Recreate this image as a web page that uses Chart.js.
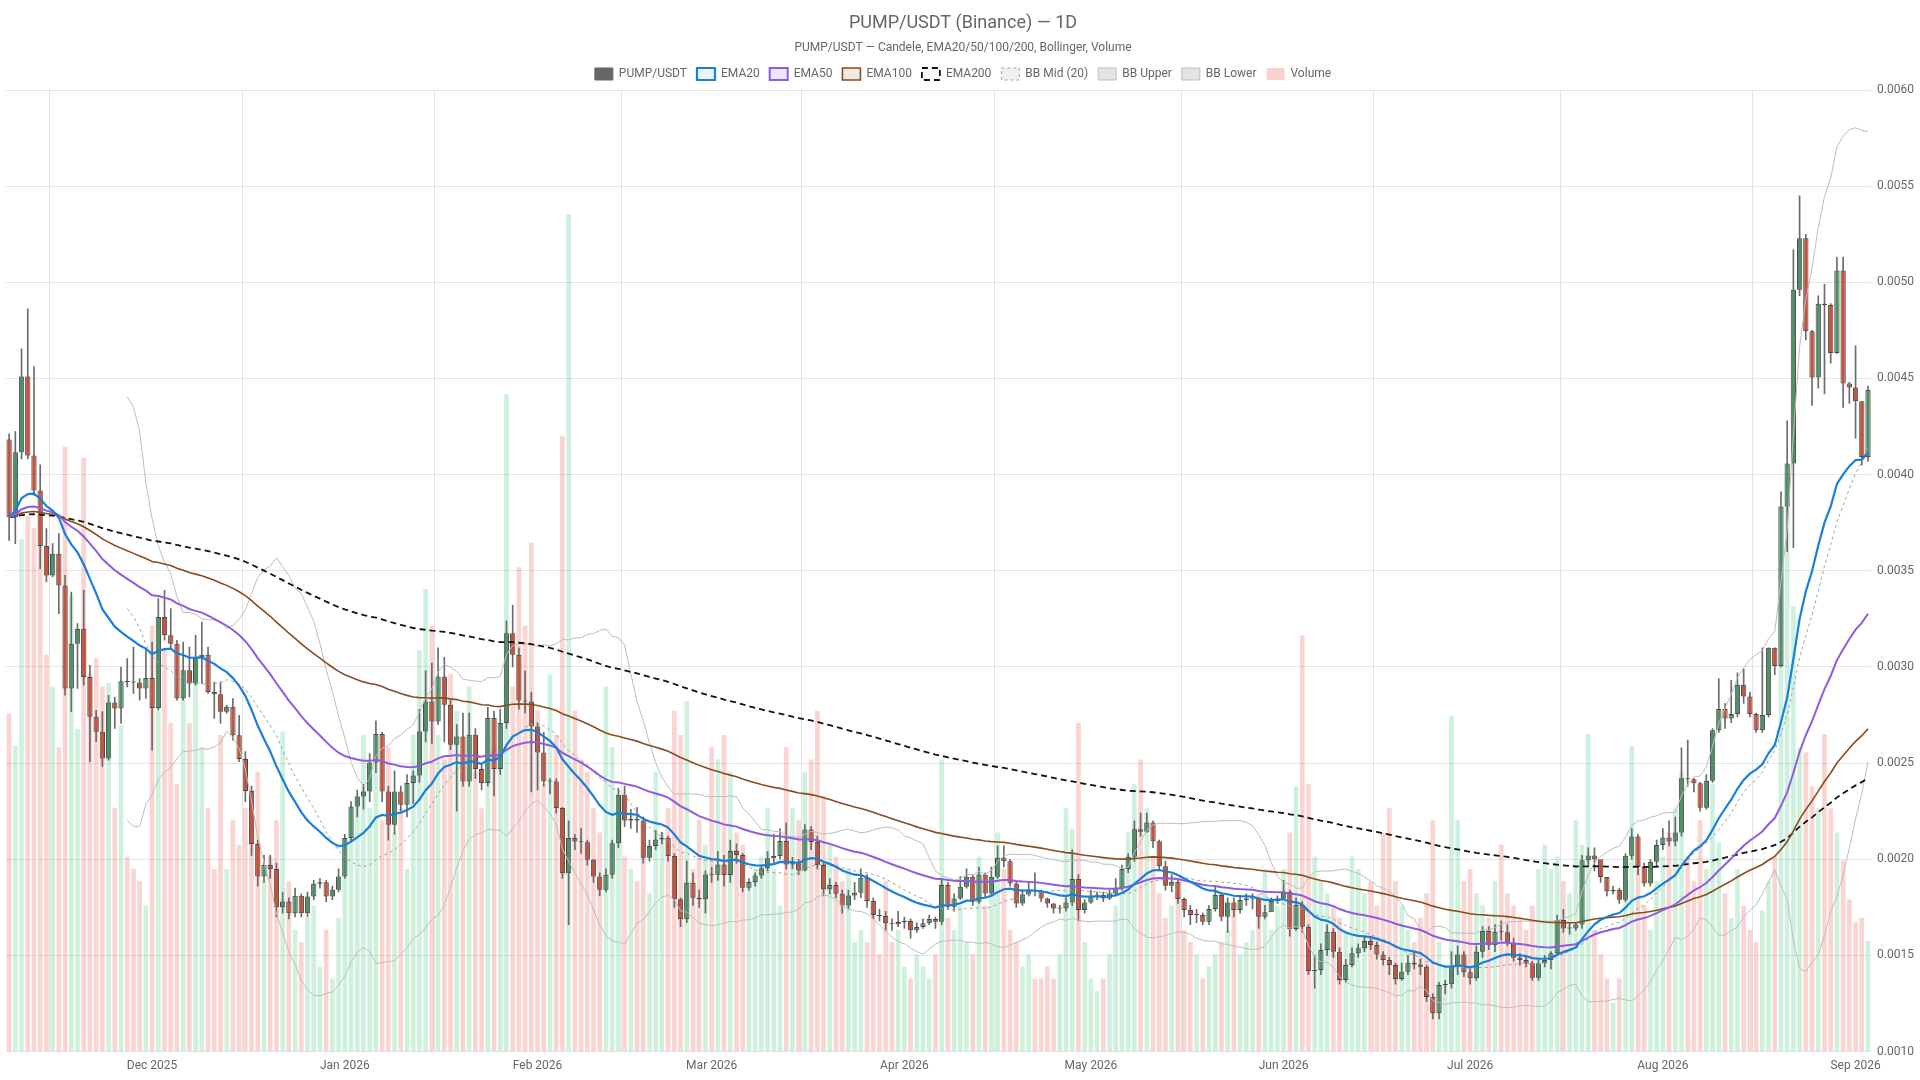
<!DOCTYPE html>
<html>
<head>
<meta charset="utf-8">
<title>PUMP/USDT (Binance) — 1D</title>
<script src="https://cdn.jsdelivr.net/npm/chart.js@4"></script>
<style>
  html, body { margin: 0; padding: 0; background: #fff; }
  #wrap { width: 1920px; height: 1080px; }
</style>
</head>
<body>
<div id="wrap"><canvas id="chart"></canvas></div>
<script>
// Daily candles, first day 2025-11-08. Prices in thousandths of USDT (x 0.001)
const START_DAY = '2025-11-08';
const firstOpen = 4.183;

const closeK = [
  3.779,4.117,4.510,4.100,3.918,3.629,3.476,3.589,3.424,2.888,3.121,3.199,2.948,2.741,2.663,2.524,2.815,2.784,2.926,2.922,
  2.919,2.888,2.943,2.787,3.260,3.165,3.121,2.836,2.983,2.914,3.052,3.064,2.870,2.858,2.767,2.793,2.645,2.521,2.355,2.080,
  1.910,1.970,1.950,1.750,1.780,1.720,1.810,1.720,1.807,1.873,1.880,1.807,1.842,1.911,2.110,2.275,2.327,2.353,2.503,2.652,
  2.353,2.179,2.353,2.283,2.396,2.436,2.664,2.820,2.716,2.950,2.803,2.595,2.638,2.405,2.647,2.469,2.396,2.734,2.469,2.708,
  3.175,3.063,2.825,2.820,2.690,2.555,2.405,2.405,2.266,1.928,2.110,2.093,2.088,1.998,1.911,1.842,1.920,2.084,2.335,2.202,
  2.210,2.202,2.008,2.069,2.103,2.112,2.017,1.792,1.688,1.878,1.800,1.792,1.921,1.920,1.973,1.918,2.043,2.022,1.852,1.882,
  1.916,1.953,2.005,2.017,2.095,1.973,1.980,1.942,2.155,2.090,1.970,1.844,1.866,1.821,1.760,1.812,1.826,1.904,1.783,1.710,
  1.705,1.667,1.662,1.674,1.679,1.631,1.648,1.667,1.689,1.675,1.866,1.753,1.796,1.857,1.909,1.779,1.921,1.822,1.909,2.008,
  1.990,1.874,1.770,1.817,1.840,1.834,1.796,1.770,1.744,1.744,1.775,1.897,1.736,1.775,1.810,1.814,1.796,1.822,1.852,1.949,
  2.013,2.156,2.143,2.191,2.094,1.964,1.862,1.883,1.793,1.736,1.710,1.710,1.675,1.741,1.814,1.701,1.775,1.736,1.788,1.796,
  1.796,1.701,1.724,1.783,1.796,1.831,1.637,1.762,1.649,1.419,1.424,1.528,1.623,1.519,1.372,1.450,1.511,1.537,1.575,1.554,
  1.505,1.476,1.450,1.377,1.415,1.462,1.453,1.441,1.284,1.199,1.346,1.350,1.441,1.505,1.412,1.381,1.519,1.627,1.554,1.623,
  1.620,1.562,1.488,1.476,1.459,1.384,1.459,1.476,1.511,1.684,1.640,1.640,1.661,1.995,2.020,2.000,1.908,1.834,1.840,1.790,
  2.018,2.118,1.960,1.874,1.987,2.074,2.113,2.092,2.139,2.421,2.416,2.395,2.268,2.408,2.671,2.782,2.732,2.755,2.908,2.847,
  2.755,2.671,2.750,3.100,3.005,3.834,4.058,4.961,5.229,4.745,4.505,4.889,4.882,4.632,5.061,4.474,4.453,4.382,4.092,4.442
];

const highK = [
  4.212,4.224,4.654,4.862,4.562,4.051,3.719,3.641,3.693,3.476,3.390,3.225,3.399,3.009,2.775,2.767,2.853,2.844,3.000,3.044,
  3.104,2.940,3.096,3.130,3.355,3.399,3.303,3.139,3.130,3.104,3.165,3.234,3.104,2.922,2.922,2.801,2.836,2.749,2.560,2.380,
  2.100,2.020,2.020,1.980,1.830,1.800,1.850,1.820,1.830,1.890,1.900,1.890,1.860,1.950,2.130,2.300,2.360,2.390,2.550,2.720,
  2.660,2.380,2.460,2.380,2.440,2.460,2.780,2.980,3.020,3.100,3.050,2.830,2.700,2.760,2.760,2.680,2.490,2.790,2.770,2.780,
  3.240,3.320,3.100,2.980,2.870,2.710,2.660,2.420,2.420,2.270,2.200,2.130,2.160,2.100,2.000,1.930,1.950,2.100,2.370,2.380,
  2.260,2.270,2.220,2.100,2.150,2.140,2.120,2.030,1.800,1.990,1.930,1.840,1.940,1.960,2.040,2.020,2.100,2.080,2.030,1.900,
  1.930,1.970,2.040,2.130,2.160,2.190,2.010,2.000,2.180,2.170,2.120,1.980,1.900,1.880,1.840,1.840,1.880,1.950,1.920,1.800,
  1.740,1.730,1.690,1.730,1.700,1.690,1.670,1.690,1.710,1.700,1.900,1.880,1.820,1.910,1.950,1.920,1.960,1.930,1.960,2.070,
  2.070,2.000,1.880,1.840,1.880,1.930,1.840,1.800,1.770,1.760,1.800,2.050,1.920,1.790,1.840,1.830,1.830,1.840,1.900,1.970,
  2.030,2.200,2.240,2.240,2.200,2.100,1.990,1.920,1.900,1.800,1.760,1.740,1.720,1.760,1.860,1.820,1.800,1.800,1.810,1.820,
  1.820,1.800,1.760,1.800,1.810,1.890,1.840,1.800,1.780,1.660,1.500,1.560,1.660,1.640,1.540,1.480,1.540,1.560,1.600,1.600,
  1.570,1.520,1.490,1.460,1.460,1.500,1.520,1.480,1.450,1.300,1.360,1.370,1.520,1.550,1.520,1.430,1.550,1.650,1.650,1.660,
  1.680,1.660,1.590,1.510,1.500,1.470,1.480,1.500,1.520,1.710,1.740,1.670,1.670,2.020,2.060,2.060,1.970,1.870,1.860,1.850,
  2.030,2.160,2.130,1.980,2.000,2.100,2.160,2.200,2.220,2.580,2.620,2.420,2.400,2.440,2.680,2.940,2.810,2.930,2.970,2.990,
  2.870,2.760,3.100,3.100,3.100,3.910,4.280,5.170,5.450,5.250,4.750,4.930,4.990,4.890,5.130,5.130,4.480,4.670,4.380,4.460
];

const lowK = [
  3.658,3.641,4.082,4.082,3.892,3.511,3.442,3.468,3.277,2.853,2.767,2.888,2.905,2.507,2.611,2.481,2.515,2.680,2.706,2.896,
  2.862,2.827,2.836,2.567,2.775,3.139,3.096,2.827,2.827,2.844,2.905,2.914,2.862,2.732,2.706,2.758,2.619,2.507,2.300,2.020,
  1.860,1.880,1.900,1.700,1.720,1.690,1.700,1.700,1.700,1.790,1.850,1.780,1.790,1.830,1.900,2.090,2.220,2.260,2.300,2.450,
  2.300,2.100,2.130,2.250,2.220,2.290,2.400,2.610,2.600,2.700,2.610,2.570,2.250,2.380,2.380,2.420,2.360,2.380,2.330,2.440,
  2.680,3.000,2.780,2.760,2.350,2.360,2.380,2.340,2.240,1.900,1.660,2.050,2.030,1.970,1.880,1.810,1.830,1.900,2.060,2.170,
  2.160,2.140,1.980,1.990,2.050,2.080,1.990,1.750,1.650,1.670,1.760,1.750,1.720,1.880,1.890,1.860,1.880,1.980,1.830,1.840,
  1.860,1.900,1.940,1.980,2.000,1.950,1.950,1.920,1.940,2.050,1.950,1.810,1.820,1.800,1.720,1.740,1.790,1.800,1.750,1.690,
  1.680,1.630,1.630,1.650,1.640,1.590,1.620,1.640,1.660,1.640,1.660,1.740,1.730,1.790,1.850,1.760,1.770,1.800,1.810,1.900,
  1.960,1.860,1.750,1.760,1.810,1.810,1.780,1.750,1.720,1.720,1.730,1.760,1.680,1.720,1.770,1.790,1.780,1.790,1.810,1.840,
  1.930,1.990,2.120,2.140,2.060,1.940,1.840,1.830,1.770,1.700,1.660,1.670,1.660,1.660,1.730,1.680,1.620,1.700,1.720,1.760,
  1.740,1.640,1.690,1.730,1.770,1.800,1.600,1.630,1.620,1.400,1.330,1.400,1.500,1.490,1.350,1.360,1.440,1.490,1.520,1.530,
  1.480,1.450,1.400,1.350,1.370,1.400,1.430,1.400,1.260,1.170,1.170,1.300,1.330,1.400,1.390,1.350,1.370,1.490,1.530,1.520,
  1.580,1.550,1.470,1.450,1.440,1.370,1.370,1.440,1.430,1.500,1.620,1.610,1.630,1.640,1.970,1.940,1.880,1.810,1.820,1.770,
  1.780,2.000,1.920,1.860,1.860,1.960,2.050,2.070,2.070,2.120,2.380,2.350,2.250,2.260,2.400,2.660,2.680,2.710,2.740,2.810,
  2.740,2.660,2.660,2.740,2.960,3.000,3.600,3.620,4.930,4.700,4.360,4.450,4.420,4.580,4.630,4.350,4.370,4.190,4.050,4.070
];

// Daily volume, millions PUMP
const volumeM = [
  278,251,421,440,430,416,326,300,250,497,375,265,488,310,323,300,303,200,268,160,
  150,140,120,350,280,330,270,220,300,270,310,250,200,150,260,150,190,170,200,190,
  230,140,160,190,263,140,100,90,110,120,70,100,60,110,160,200,210,260,200,240,
  190,250,180,200,150,260,330,380,350,260,240,310,280,240,300,230,200,260,250,250,
  540,300,398,350,418,280,220,310,260,506,688,280,240,230,200,180,300,250,190,160,
  150,140,170,130,230,180,200,280,260,288,150,190,170,250,240,260,230,180,170,140,
  150,160,200,150,120,250,200,190,230,240,280,210,170,160,140,150,90,100,90,120,
  80,140,90,100,70,60,80,70,60,80,240,110,100,120,90,80,160,120,130,180,
  150,100,90,70,80,60,60,70,60,80,200,183,270,90,60,50,60,80,120,140,
  180,220,240,200,160,130,110,120,130,100,90,80,60,70,80,90,100,120,80,90,
  100,130,150,100,120,150,180,218,342,220,160,140,130,120,110,100,160,150,130,140,
  120,180,200,140,120,100,90,110,130,190,90,70,276,190,140,150,130,120,110,140,
  170,130,120,110,100,120,150,170,150,160,140,130,190,170,261,100,80,60,40,60,
  140,251,150,120,100,140,160,180,200,230,160,140,190,150,220,172,130,110,150,120,
  100,90,116,140,160,318,472,366,250,246,218,200,261,200,180,157,125,106,110,91
];

const gridDays = ['2025-11-15','2025-12-16','2026-01-16','2026-02-15','2026-03-16',
                  '2026-04-16','2026-05-16','2026-06-16','2026-07-16','2026-08-16'];
const monthNames = ['Jan','Feb','Mar','Apr','May','Jun','Jul','Aug','Sep','Oct','Nov','Dec'];

// Build dates
const dates = [];
const d0 = new Date(START_DAY + 'T00:00:00Z');
for (let i = 0; i < closeK.length; i++) {
    const d = new Date(d0.getTime() + i * 86400000);
    dates.push(d.toISOString().slice(0, 10));
}

const close = closeK.map(v => v / 1000);
const high = highK.map(v => v / 1000);
const low = lowK.map(v => v / 1000);
const open = close.map((c, i) => i === 0 ? firstOpen / 1000 : close[i - 1]);
const isUp = close.map((c, i) => c >= open[i]);

// Indicators
function ema(values, period) {
    const k = 2 / (period + 1);
    const out = [];
    values.forEach((v, i) => out.push(i === 0 ? v : v * k + out[i - 1] * (1 - k)));
    return out;
}

function bollinger(values, period, mult) {
    const mid = [], up = [], lo = [];
    values.forEach((v, i) => {
        if (i < period - 1) { mid.push(null); up.push(null); lo.push(null); return; }
        const slice = values.slice(i - period + 1, i + 1);
        const m = slice.reduce((a, b) => a + b, 0) / period;
        const sd = Math.sqrt(slice.reduce((a, b) => a + (b - m) * (b - m), 0) / period);
        mid.push(m); up.push(m + mult * sd); lo.push(m - mult * sd);
    });
    return { mid, up, lo };
}

const bb = bollinger(close, 20, 2);

const GREEN = '#4f9066';
const RED = '#c4543f';

function lineSet(label, data, color, bg, width, dash) {
    return {
        type: 'line', label: label, data: data,
        borderColor: color, backgroundColor: bg, borderWidth: width,
        borderDash: dash || [], pointRadius: 0, fill: false, tension: 0,
        yAxisID: 'y', order: 0
    };
}

const datasets = [
    {
        type: 'bar', label: 'PUMP/USDT',
        data: close.map((c, i) => [open[i], c]),
        backgroundColor: isUp.map(u => u ? GREEN : RED),
        borderColor: '#4a4a4a', borderWidth: 1, borderSkipped: false,
        minBarLength: 1, grouped: false, barPercentage: 0.85, categoryPercentage: 1,
        yAxisID: 'y', order: 1
    },
    lineSet('EMA20', ema(close, 20), '#1a7fd8', 'rgba(26,127,216,0.08)', 2.2),
    lineSet('EMA50', ema(close, 50), '#8f5ce0', 'rgba(143,92,224,0.15)', 2),
    lineSet('EMA100', ema(close, 100), '#8a4b1e', 'rgba(138,75,30,0.12)', 1.6),
    lineSet('EMA200', ema(close, 200), '#111', 'rgba(0,0,0,0.03)', 1.8, [6, 4]),
    lineSet('BB Mid (20)', bb.mid, '#a0a0a0', 'rgba(220,220,220,0.4)', 1, [3, 3]),
    lineSet('BB Upper', bb.up, '#bdbdbd', 'rgba(210,210,210,0.6)', 1),
    lineSet('BB Lower', bb.lo, '#bdbdbd', 'rgba(210,210,210,0.6)', 1),
    {
        type: 'bar', label: 'Volume', data: volumeM,
        backgroundColor: isUp.map(u => u ? 'rgba(60,200,120,0.25)' : 'rgba(235,100,85,0.28)'),
        borderWidth: 0, grouped: false, barPercentage: 0.75, categoryPercentage: 1,
        yAxisID: 'yv', order: 10
    },
    {
        type: 'bar', label: 'wick',
        data: low.map((l, i) => [l, high[i]]),
        backgroundColor: '#6b6b6b', barThickness: 1, grouped: false,
        yAxisID: 'y', order: 2
    }
];

new Chart(document.getElementById('chart'), {
    data: { labels: dates, datasets: datasets },
    options: {
        responsive: true,
        maintainAspectRatio: false,
        animation: false,
        layout: { padding: { left: 6, right: 0, top: 9, bottom: 0 } },
        plugins: {
            title: {
                display: true, text: 'PUMP/USDT (Binance) — 1D', color: '#666',
                font: { family: 'Roboto', size: 18, weight: 'normal' }, padding: { top: 4, bottom: 6 }
            },
            subtitle: {
                display: true, text: 'PUMP/USDT — Candele, EMA20/50/100/200, Bollinger, Volume', color: '#666',
                font: { family: 'Roboto', size: 12 }, padding: { bottom: 3 }
            },
            legend: {
                labels: {
                    color: '#666', font: { family: 'Roboto', size: 12 }, boxWidth: 18, boxHeight: 12,
                    filter: item => item.text !== 'wick',
                    sort: (a, b) => a.datasetIndex - b.datasetIndex,
                    generateLabels: chart => {
                        const items = Chart.defaults.plugins.legend.labels.generateLabels(chart);
                        items.forEach(it => {
                            if (it.text === 'PUMP/USDT') { it.fillStyle = '#666'; it.strokeStyle = '#666'; }
                            if (it.text === 'Volume') { it.fillStyle = 'rgba(240,140,130,0.4)'; it.strokeStyle = 'rgba(240,140,130,0.4)'; it.lineWidth = 0; }
                        });
                        return items;
                    }
                }
            },
            tooltip: { enabled: false }
        },
        scales: {
            x: {
                type: 'category', offset: true,
                border: { display: false },
                grid: {
                    drawTicks: false,
                    color: ctx => gridDays.includes(dates[ctx.index]) ? '#e3e3e3' : 'rgba(0,0,0,0)'
                },
                ticks: {
                    autoSkip: false, maxRotation: 0, color: '#666', padding: 7,
                    font: { family: 'Roboto', size: 12 },
                    callback: (v, i) => {
                        const s = dates[i];
                        if (s.slice(8) !== '01') return '';
                        return monthNames[parseInt(s.slice(5, 7)) - 1] + ' ' + s.slice(0, 4);
                    }
                }
            },
            y: {
                position: 'right', min: 0.001, max: 0.006,
                border: { display: false },
                grid: { color: '#e6e6e6', borderDash: [3, 3], drawTicks: false, tickBorderDash: [3, 3] },
                ticks: {
                    stepSize: 0.0005, color: '#666', padding: 6,
                    font: { family: 'Roboto', size: 12 },
                    callback: v => v.toFixed(4)
                }
            },
            yv: { display: false, min: 0, max: 790 }
        }
    }
});
</script>
</body>
</html>
